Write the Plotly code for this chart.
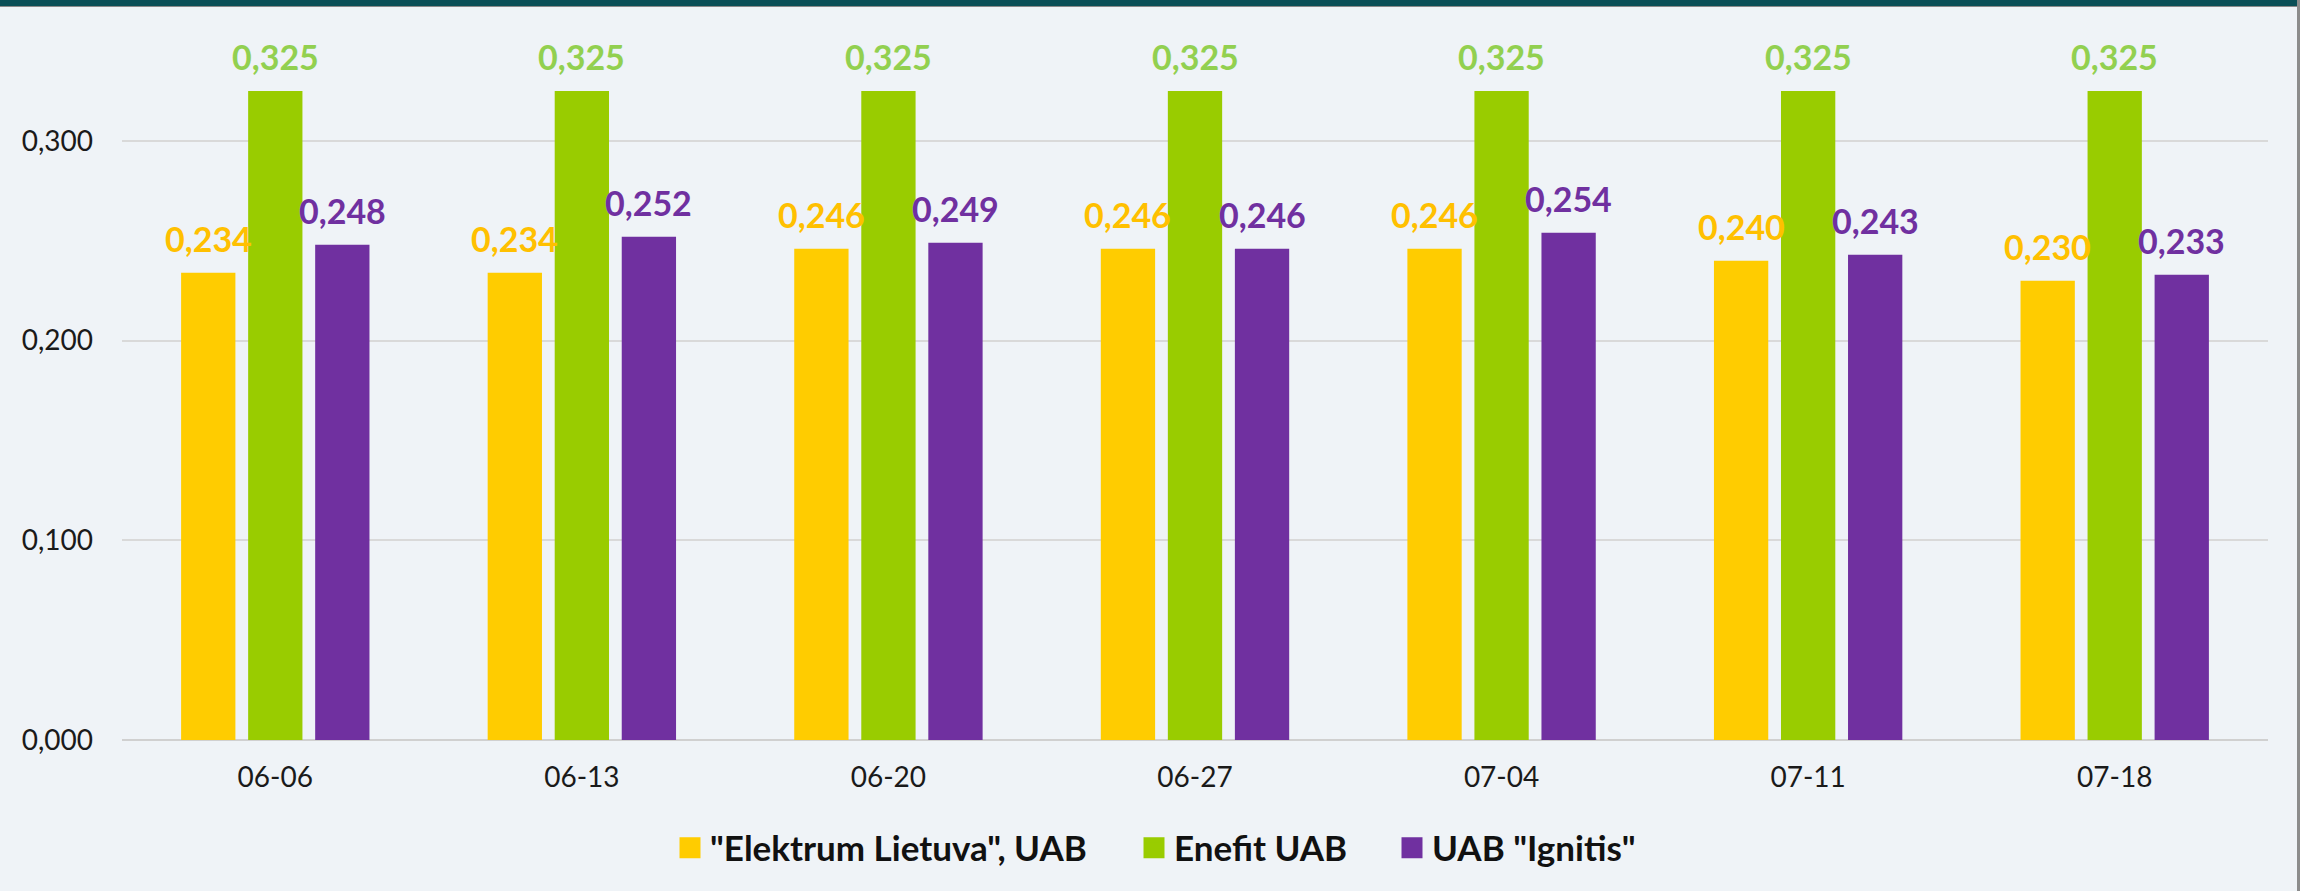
import plotly.graph_objects as go

categories = ["06-06", "06-13", "06-20", "06-27", "07-04", "07-11", "07-18"]
series_names = ['"Elektrum Lietuva", UAB', "Enefit UAB", 'UAB "Ignitis"']
elektrum = [0.234, 0.234, 0.246, 0.246, 0.246, 0.240, 0.230]
enefit = [0.325, 0.325, 0.325, 0.325, 0.325, 0.325, 0.325]
ignitis = [0.248, 0.252, 0.249, 0.246, 0.254, 0.243, 0.233]
bar_colors = ["#FFCC00", "#99CC00", "#7030A0"]
label_colors = ["#FFC000", "#92D050", "#7030A0"]
y_ticks = [0.0, 0.1, 0.2, 0.3]

W, H = 2300, 891
ml, mr, mt, mb = 122, 32, 41, 151
bargap = 0.344
bargroupgap = 0.19

fig = go.Figure()
all_series = [elektrum, enefit, ignitis]
legend_ids = ["legend", "legend2", "legend3"]
for name, vals, col in zip(series_names, all_series, bar_colors):
    fig.add_trace(go.Bar(x=categories, y=vals, name=name, showlegend=False,
                         marker=dict(color=col, line=dict(width=0))))
# legend entries (square swatches)
for name, col, lid in zip(series_names, bar_colors, legend_ids):
    fig.add_trace(go.Scatter(x=[None], y=[None], name=name, mode="markers", legend=lid,
                             marker=dict(symbol="square", size=16, color=col, line=dict(width=5, color=col))))

plot_w = W - ml - mr
plot_h = H - mt - mb
cat_w = plot_w / len(categories)
slot_w = cat_w * (1 - bargap) / 3
annotations = []
for i, (vals, lc) in enumerate(zip(all_series, label_colors)):
    for c, v in zip(categories, vals):
        annotations.append(dict(
            x=c, y=v, xref="x", yref="y", text=f"{v:.3f}".replace(".", ","),
            showarrow=False, yanchor="bottom", xanchor="center",
            xshift=(i - 1) * slot_w, yshift=12,
            font=dict(family="Lato", size=34, color=lc, weight="bold"),
        ))

top_frac = lambda px: 1 + (mt - px) / plot_h
legend_font = dict(family="Lato", size=35, color="#111111", weight="bold")
legend_left_px = [670, 1134, 1392]
legends = {}
for lid, lx in zip(legend_ids, legend_left_px):
    legends[lid] = dict(xref="container", yref="container", x=lx / W, xanchor="left",
                        y=1 - 848 / H, yanchor="middle", orientation="h", font=legend_font,
                        itemwidth=30, bgcolor="rgba(0,0,0,0)", borderwidth=0)

fig.update_layout(
    width=W, height=H,
    margin=dict(l=ml, r=mr, t=mt, b=mb, pad=0),
    paper_bgcolor="#EFF3F7", plot_bgcolor="#EFF3F7",
    barmode="group", bargap=bargap, bargroupgap=bargroupgap,
    separators=", ",
    font=dict(family="Lato", color="#1A1A1A"),
    annotations=annotations,
    xaxis=dict(type="category", showgrid=False, showline=False, ticks="",
               tickfont=dict(size=28, color="#1A1A1A"), ticklabelstandoff=18),
    yaxis=dict(range=[0, 0.35], tickvals=y_ticks, tickformat=".3f", showgrid=True,
               gridcolor="#D9D9D9", gridwidth=2, zeroline=True, zerolinecolor="#D0D0D0", zerolinewidth=2,
               showline=False, tickfont=dict(size=28, color="#1A1A1A"), ticklabelstandoff=28),
    shapes=[
        dict(type="rect", xref="paper", yref="paper", x0=-ml / plot_w, x1=1 + mr / plot_w,
             y0=top_frac(6), y1=top_frac(-2), fillcolor="#0A4F57", line=dict(width=0), layer="above"),
        dict(type="rect", xref="paper", yref="paper", x0=-ml / plot_w, x1=1 + mr / plot_w,
             y0=top_frac(7), y1=top_frac(6), fillcolor="#8A8A8A", line=dict(width=0), layer="above"),
        dict(type="rect", xref="paper", yref="paper", x0=1 + (mr - 3) / plot_w, x1=1 + (mr + 2) / plot_w,
             y0=-mb / plot_h - 0.01, y1=top_frac(0), fillcolor="#8C8C8C", line=dict(width=0), layer="above"),
    ],
    **legends,
)

fig.write_html("out.html", config={"displayModeBar": False},
               post_script="document.body.style.margin='0';document.body.style.overflow='hidden';")
